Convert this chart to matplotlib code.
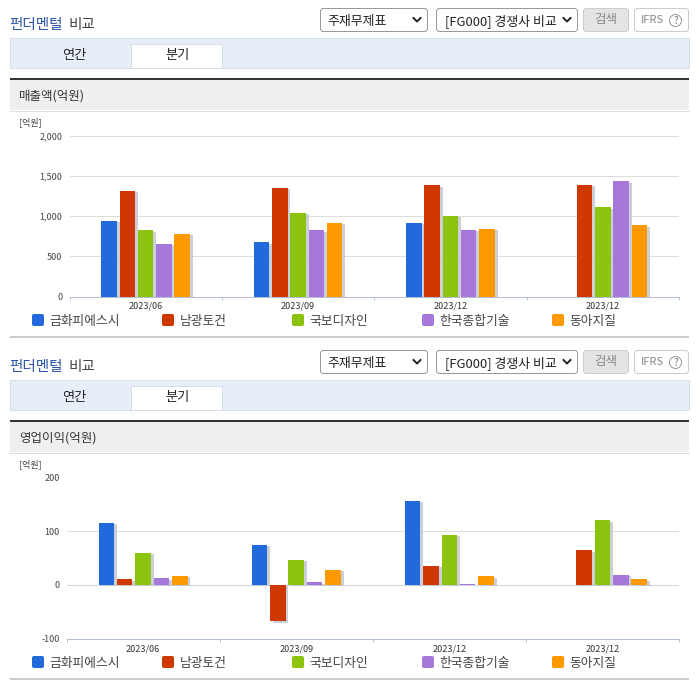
import numpy as np
import matplotlib
matplotlib.use('Agg')
import matplotlib.pyplot as plt
import matplotlib.patheffects as pe
from matplotlib.patches import FancyBboxPatch, Rectangle, Circle

plt.rcParams['font.family'] = ['Noto Sans CJK KR', 'DejaVu Sans']

W, H = 696, 684

# one pixel, in points
PX = 0.72

periods = ['2023/06', '2023/09', '2023/12', '2023/12']
companies = ['금화피에스시', '남광토건', '국보디자인', '한국종합기술', '동아지질']
colors = ['#2269dc', '#cf3800', '#8cc30e', '#a678d9', '#ff9900']

# 매출액 (억원), one row per company
sales_kumhwa = [944, 671, 919, np.nan]
sales_namkwang = [1313, 1354, 1379, 1391]
sales_kukbo = [820, 1043, 1002, 1106]
sales_hankook = [654, 820, 828, 1429]
sales_donga = [778, 919, 841, 882]

# 영업이익 (억원)
profit_kumhwa = [116, 75, 157, np.nan]
profit_namkwang = [10, -68, 36, 64]
profit_kukbo = [60, 47, 93, 120]
profit_hankook = [12, 5, 1, 19]
profit_donga = [17, 28, 16, 10]

sales = [sales_kumhwa, sales_namkwang, sales_kukbo, sales_hankook, sales_donga]
profit = [profit_kumhwa, profit_namkwang, profit_kukbo, profit_hankook, profit_donga]

sales_ticks = [0, 500, 1000, 1500, 2000]
profit_ticks = [-100, 0, 100, 200]

fig = plt.figure(figsize=(W / 100, H / 100), dpi=100, facecolor='white')

# page furniture is drawn in pixel coordinates
ui = fig.add_axes([0, 0, 1, 1])
ui.set_xlim(0, W)
ui.set_ylim(H, 0)
ui.axis('off')


def box(x0, y0, x1, y1, face, edge='none', round=0):
    if round:
        ui.add_patch(FancyBboxPatch((x0, y0), x1 - x0, y1 - y0,
                                    boxstyle='round,pad=0,rounding_size=%g' % round,
                                    fc=face, ec=edge, lw=PX))
    else:
        ui.add_patch(Rectangle((x0, y0), x1 - x0, y1 - y0, fc=face, ec=edge, lw=PX))


def label(x, y, s, **kw):
    # CJK glyphs sit high in their box with va=center
    ui.text(x, y + 1.5, s, va='center', **kw)


def chevron(x, y):
    ui.plot([x - 3.5, x, x + 3.5], [y - 2, y + 1.5, y - 2], color='#222222', lw=1.4)


def draw_header(dy, section):
    label(9.5, 23 + dy, '펀더멘털', color='#2b55a8', fontsize=10.5, fontweight='medium')
    label(69, 23 + dy, '비교', color='#444444', fontsize=10.5, fontweight='medium')

    # dropdowns and buttons
    box(320.5, 8.5 + dy, 427.5, 31.5 + dy, 'white', '#999999', 3)
    label(327.5, 20 + dy, '주재무제표', color='#222222', fontsize=9.3)
    chevron(417, 20 + dy)
    box(436.5, 8.5 + dy, 577.5, 31.5 + dy, 'white', '#999999', 3)
    label(445, 20 + dy, '[FG000] 경쟁사 비교', color='#222222', fontsize=9.3)
    chevron(567, 20 + dy)
    box(583.5, 8.5 + dy, 628.5, 31.5 + dy, '#e4e4e4', '#cccccc', 3)
    label(606, 18.5 + dy, '검색', color='#888888', fontsize=9, ha='center')
    box(634.5, 8.5 + dy, 688.5, 31.5 + dy, 'white', '#cccccc', 3)
    label(641, 18.5 + dy, 'IFRS', color='#888888', fontsize=8)
    ui.add_patch(Circle((675.5, 20.5 + dy), 6, fc='white', ec='#999999', lw=PX))
    ui.text(675.5, 20.5 + dy, '?', color='#777777', fontsize=7, ha='center', va='center')

    # tab bar
    box(9.5, 38 + dy, 689, 67.5 + dy, '#e8eef8', '#d5dde8')
    box(131, 43.5 + dy, 222, 67.5 + dy, 'white', '#d5dde8')
    label(74, 54 + dy, '연간', color='#222222', fontsize=9.5, ha='center')
    label(177, 54.5 + dy, '분기', color='#222222', fontsize=9.5, ha='center')

    # section band
    box(9.5, 80 + dy, 689, 110 + dy, '#efefef')
    box(9.5, 78 + dy, 689, 80 + dy, '#333333')
    ui.plot([9.5, 689], [110.5 + dy, 110.5 + dy], color='#dddddd', lw=PX)
    label(19, 95 + dy, section, color='#333333', fontsize=9)
    label(19, 120.5 + dy, '[억원]', color='#444444', fontsize=6.5)


def draw_legend(y, rule_y):
    swatch_x = [32, 162, 292, 422, 552]
    text_x = [49, 180, 309, 439, 569]
    for name, c, sx, tx in zip(companies, colors, swatch_x, text_x):
        box(sx, y - 6, sx + 12, y + 6, c, round=2)
        label(tx, y - 0.5, name, color='#444444', fontsize=9.2)
    box(9.5, rule_y - 1, 689, rule_y + 1, '#cccccc')


def draw_chart(left, top, bottom, series, ticks, label_pad):
    right = 679
    ax = fig.add_axes([left / W, 1 - bottom / H, (right - left) / W, (bottom - top) / H])
    ax.patch.set_alpha(0)
    x = np.arange(len(periods))
    step = 0.12
    for i, (values, c) in enumerate(zip(series, colors)):
        bars = ax.bar(x + 0.5 + (i - 2) * step, values, width=0.102, color=c, zorder=3)
        for b in bars:
            b.set_path_effects([
                pe.SimplePatchShadow(offset=(2, -1), shadow_rgbFace='#b9c0cc', alpha=0.75),
                pe.Normal()])
    ax.set_xlim(0, len(periods))
    ax.set_ylim(ticks[0], ticks[-1])
    ax.set_yticks(ticks)
    ax.set_yticklabels(['{:,}'.format(t) for t in ticks], fontsize=6.5, color='#444444')
    ax.set_xticks(np.arange(len(periods) + 1))
    ax.set_xticklabels([])
    ax.set_xticks(x + 0.5, minor=True)
    ax.set_xticklabels(periods, minor=True, fontsize=6.5, color='#333333')
    ax.tick_params(axis='x', which='major', length=2.5, width=PX, color='#b4c0d0')
    ax.tick_params(axis='x', which='minor', length=0, pad=label_pad)
    ax.tick_params(axis='y', length=0, pad=5)
    ax.grid(axis='y', color='#dddddd', lw=PX, zorder=0)
    ax.set_axisbelow(True)
    for side in ['top', 'right', 'left']:
        ax.spines[side].set_visible(False)
    ax.spines['bottom'].set_color('#b4c0d0')
    ax.spines['bottom'].set_linewidth(PX)
    if ticks[0] < 0:
        ax.axhline(0, color='#cdd5e0', lw=PX, zorder=2)


draw_header(0, '매출액(억원)')
draw_chart(69.5, 135.5, 296.5, sales, sales_ticks, 3.5)
draw_legend(320, 337)

draw_header(342, '영업이익(억원)')
draw_chart(66.5, 477.5, 638.5, profit, profit_ticks, 4)
draw_legend(662, 679)

plt.savefig('out.png', dpi=100)
plt.close()
